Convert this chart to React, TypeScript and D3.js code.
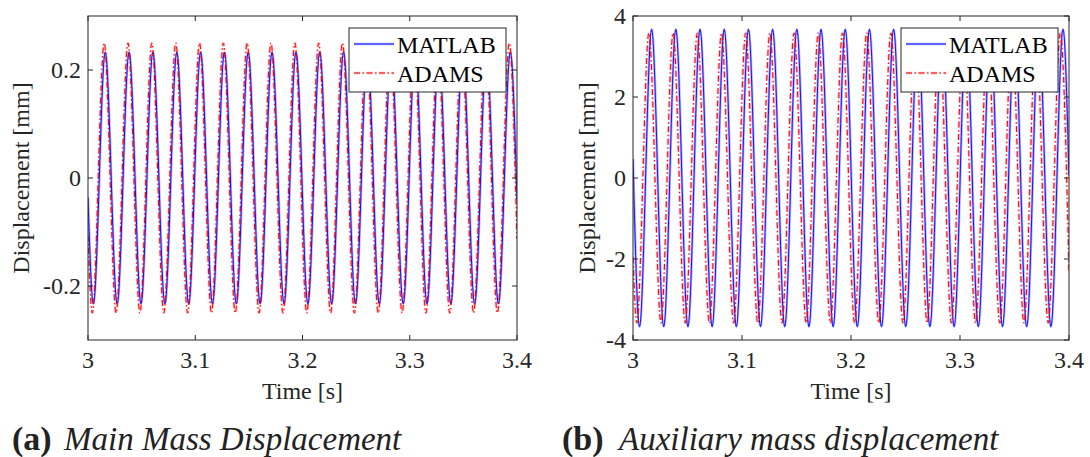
import React from "react";
import * as d3 from "d3";

// ---------- DATA (start, alternating extrema, end) ----------
// Panel (a): main mass displacement [mm]
const mainMatlabT = [3.0, 3.005, 3.0161, 3.0272, 3.0383, 3.0494, 3.0605, 3.0717, 3.0828, 3.0939, 3.105, 3.1161, 3.1272, 3.1383, 3.1494, 3.1605, 3.1716, 3.1828, 3.1939, 3.205, 3.2161, 3.2272, 3.2383, 3.2494, 3.2605, 3.2716, 3.2827, 3.2939, 3.305, 3.3161, 3.3272, 3.3383, 3.3494, 3.3605, 3.3716, 3.3827, 3.3938, 3.4];
const mainMatlabY = [-0.036, -0.233, 0.233, -0.233, 0.233, -0.233, 0.233, -0.233, 0.233, -0.233, 0.233, -0.233, 0.233, -0.233, 0.233, -0.233, 0.233, -0.233, 0.233, -0.233, 0.233, -0.233, 0.233, -0.233, 0.233, -0.233, 0.233, -0.233, 0.233, -0.233, 0.233, -0.233, 0.233, -0.233, 0.233, -0.233, 0.233, -0.04];
const mainAdamsT = [3.0, 3.004, 3.0151, 3.0262, 3.0373, 3.0484, 3.0595, 3.0707, 3.0818, 3.0929, 3.104, 3.1151, 3.1262, 3.1373, 3.1484, 3.1595, 3.1706, 3.1818, 3.1929, 3.204, 3.2151, 3.2262, 3.2373, 3.2484, 3.2595, 3.2706, 3.2817, 3.2929, 3.304, 3.3151, 3.3262, 3.3373, 3.3484, 3.3595, 3.3706, 3.3817, 3.3928, 3.4];
const mainAdamsY = [-0.106, -0.25, 0.25, -0.25, 0.25, -0.25, 0.25, -0.25, 0.25, -0.25, 0.25, -0.25, 0.25, -0.25, 0.25, -0.25, 0.25, -0.25, 0.25, -0.25, 0.25, -0.25, 0.25, -0.25, 0.25, -0.25, 0.25, -0.25, 0.25, -0.25, 0.25, -0.25, 0.25, -0.25, 0.25, -0.25, 0.25, -0.113];

// Panel (b): auxiliary mass displacement [mm]
const auxMatlabT = [3.0, 3.006, 3.0171, 3.0282, 3.0393, 3.0504, 3.0615, 3.0726, 3.0837, 3.0948, 3.1059, 3.117, 3.1281, 3.1392, 3.1503, 3.1614, 3.1725, 3.1836, 3.1947, 3.2058, 3.2169, 3.228, 3.2391, 3.2502, 3.2613, 3.2724, 3.2835, 3.2946, 3.3057, 3.3168, 3.3279, 3.339, 3.3501, 3.3612, 3.3723, 3.3834, 3.3945, 3.4];
const auxMatlabY = [0.47, -3.67, 3.67, -3.67, 3.67, -3.67, 3.67, -3.67, 3.67, -3.67, 3.67, -3.67, 3.67, -3.67, 3.67, -3.67, 3.67, -3.67, 3.67, -3.67, 3.67, -3.67, 3.67, -3.67, 3.67, -3.67, 3.67, -3.67, 3.67, -3.67, 3.67, -3.67, 3.67, -3.67, 3.67, -3.67, 3.67, 0.06];
const auxAdamsT = [3.0, 3.0035, 3.0146, 3.0257, 3.0368, 3.0479, 3.059, 3.0701, 3.0812, 3.0923, 3.1034, 3.1145, 3.1256, 3.1367, 3.1478, 3.1589, 3.17, 3.1811, 3.1922, 3.2033, 3.2144, 3.2255, 3.2366, 3.2477, 3.2588, 3.2699, 3.281, 3.2921, 3.3032, 3.3143, 3.3254, 3.3365, 3.3476, 3.3587, 3.3698, 3.3809, 3.392, 3.4];
const auxAdamsY = [-1.96, -3.58, 3.58, -3.58, 3.58, -3.58, 3.58, -3.58, 3.58, -3.58, 3.58, -3.58, 3.58, -3.58, 3.58, -3.58, 3.58, -3.58, 3.58, -3.58, 3.58, -3.58, 3.58, -3.58, 3.58, -3.58, 3.58, -3.58, 3.58, -3.58, 3.58, -3.58, 3.58, -3.58, 3.58, -3.58, 3.58, -2.29];

const xTicks = [3, 3.1, 3.2, 3.3, 3.4];
const xTickLabels = ["3", "3.1", "3.2", "3.3", "3.4"];
const mainYTicks = [-0.2, 0, 0.2];
const mainYTickLabels = ["-0.2", "0", "0.2"];
const auxYTicks = [-4, -2, 0, 2, 4];
const auxYTickLabels = ["-4", "-2", "0", "2", "4"];
const seriesNames = ["MATLAB", "ADAMS"];
const xLabel = "Time [s]";
const yLabel = "Displacement [mm]";
const captions = [
  { tag: "(a)", text: "Main Mass Displacement" },
  { tag: "(b)", text: "Auxiliary mass displacement" },
];

// ---------- STYLE ----------
const FONT = '"Liberation Serif", "DejaVu Serif", serif';
const AX = "#262626";
const BLUE = "#0000ff";
const RED = "#ff0000";
const DASHDOT = "6,2.5,1.5,2.5";
const FS = 24;

type PanelProps = {
  id: string;
  x0: number;
  x1: number;
  y0: number;
  y1: number;
  yDomain: [number, number];
  yTicks: number[];
  yTickLabels: string[];
  matlabT: number[];
  matlabY: number[];
  adamsT: number[];
  adamsY: number[];
  legendX: number;
  yLabelX: number;
  caption: { tag: string; text: string };
  captionX: number;
  captionTextX: number;
};

const txt = (size: number, extra: React.CSSProperties = {}): React.CSSProperties => ({
  fontFamily: FONT,
  fontSize: size,
  ...extra,
});

function Panel(p: PanelProps) {
  const x = d3.scaleLinear().domain([3, 3.4]).range([p.x0, p.x1]);
  const y = d3.scaleLinear().domain(p.yDomain).range([p.y1, p.y0]);
  const line = d3
    .line<[number, number]>()
    .x((d) => x(d[0]))
    .y((d) => y(d[1]))
    .curve(d3.curveMonotoneX);
  const mPts = p.matlabT.map((t, i) => [t, p.matlabY[i]] as [number, number]);
  const aPts = p.adamsT.map((t, i) => [t, p.adamsY[i]] as [number, number]);
  const mPath = line(mPts) || "";
  const aPath = line(aPts) || "";
  const tl = 5;
  const lgW = 157;
  const lgH = 64;
  const lgY = 28;
  return (
    <g>
      <defs>
        <clipPath id={`clip-${p.id}`}>
          <rect x={p.x0} y={p.y0} width={p.x1 - p.x0} height={p.y1 - p.y0} />
        </clipPath>
      </defs>
      <g clipPath={`url(#clip-${p.id})`} fill="none">
        <path d={mPath} stroke={BLUE} strokeOpacity={0.3} strokeWidth={2.6} />
        <path d={aPath} stroke={RED} strokeOpacity={0.28} strokeWidth={2.6} strokeDasharray={DASHDOT} />
        <path d={mPath} stroke={BLUE} strokeWidth={0.9} />
        <path d={aPath} stroke={RED} strokeWidth={1} strokeDasharray={DASHDOT} />
      </g>
      <rect x={p.x0} y={p.y0} width={p.x1 - p.x0} height={p.y1 - p.y0} fill="none" stroke={AX} strokeWidth={1} />
      {xTicks.map((t, i) => (
        <g key={`xt${i}`}>
          <line x1={x(t)} x2={x(t)} y1={p.y1} y2={p.y1 - tl} stroke={AX} />
          <line x1={x(t)} x2={x(t)} y1={p.y0} y2={p.y0 + tl} stroke={AX} />
          <text x={x(t)} y={p.y1 + 28} textAnchor="middle" style={txt(FS)} fill={AX}>
            {xTickLabels[i]}
          </text>
        </g>
      ))}
      {p.yTicks.map((t, i) => (
        <g key={`yt${i}`}>
          <line x1={p.x0} x2={p.x0 + tl} y1={y(t)} y2={y(t)} stroke={AX} />
          <line x1={p.x1} x2={p.x1 - tl} y1={y(t)} y2={y(t)} stroke={AX} />
          <text x={p.x0 - 7} y={y(t) + 8} textAnchor="end" style={txt(FS)} fill={AX}>
            {p.yTickLabels[i]}
          </text>
        </g>
      ))}
      <text x={(p.x0 + p.x1) / 2} y={p.y1 + 59} textAnchor="middle" style={txt(FS)} fill={AX}>
        {xLabel}
      </text>
      <text
        transform={`translate(${p.yLabelX},${(p.y0 + p.y1) / 2}) rotate(-90)`}
        textAnchor="middle"
        style={txt(FS)}
        fill={AX}
      >
        {yLabel}
      </text>
      <g>
        <rect x={p.legendX} y={lgY} width={lgW} height={lgH} fill="#fff" stroke={AX} strokeWidth={1} />
        <line x1={p.legendX + 5} x2={p.legendX + 45} y1={lgY + 16} y2={lgY + 16} stroke={BLUE} strokeOpacity={0.3} strokeWidth={2.6} />
        <line x1={p.legendX + 5} x2={p.legendX + 45} y1={lgY + 16} y2={lgY + 16} stroke={BLUE} strokeWidth={0.9} />
        <line x1={p.legendX + 5} x2={p.legendX + 45} y1={lgY + 45} y2={lgY + 45} stroke={RED} strokeOpacity={0.28} strokeWidth={2.6} strokeDasharray={DASHDOT} />
        <line x1={p.legendX + 5} x2={p.legendX + 45} y1={lgY + 45} y2={lgY + 45} stroke={RED} strokeWidth={1} strokeDasharray={DASHDOT} />
        <text x={p.legendX + 48} y={lgY + 25} style={txt(FS)} fill="#000">
          {seriesNames[0]}
        </text>
        <text x={p.legendX + 48} y={lgY + 54} style={txt(FS)} fill="#000">
          {seriesNames[1]}
        </text>
      </g>
      <text x={p.captionX} y={450} style={txt(34, { fontWeight: "bold" })} fill="#222">
        {p.caption.tag}
      </text>
      <text x={p.captionTextX} y={450} style={txt(33, { fontStyle: "italic" })} fill="#222">
        {p.caption.text}
      </text>
    </g>
  );
}

export default function App() {
  return (
    <svg
      width={1090}
      height={457}
      viewBox="0 0 1090 457"
      style={{ position: "absolute", left: 0, top: 0, background: "#fff" }}
    >
      <rect x={0} y={0} width={1090} height={457} fill="#fff" />
      <Panel
        id="a"
        x0={88}
        x1={517}
        y0={16}
        y1={340}
        yDomain={[-0.3, 0.3]}
        yTicks={mainYTicks}
        yTickLabels={mainYTickLabels}
        matlabT={mainMatlabT}
        matlabY={mainMatlabY}
        adamsT={mainAdamsT}
        adamsY={mainAdamsY}
        legendX={349}
        yLabelX={29}
        caption={captions[0]}
        captionX={12}
        captionTextX={64}
      />
      <Panel
        id="b"
        x0={633}
        x1={1069}
        y0={16}
        y1={340}
        yDomain={[-4, 4]}
        yTicks={auxYTicks}
        yTickLabels={auxYTickLabels}
        matlabT={auxMatlabT}
        matlabY={auxMatlabY}
        adamsT={auxAdamsT}
        adamsY={auxAdamsY}
        legendX={901}
        yLabelX={595}
        caption={captions[1]}
        captionX={562}
        captionTextX={619}
      />
    </svg>
  );
}
